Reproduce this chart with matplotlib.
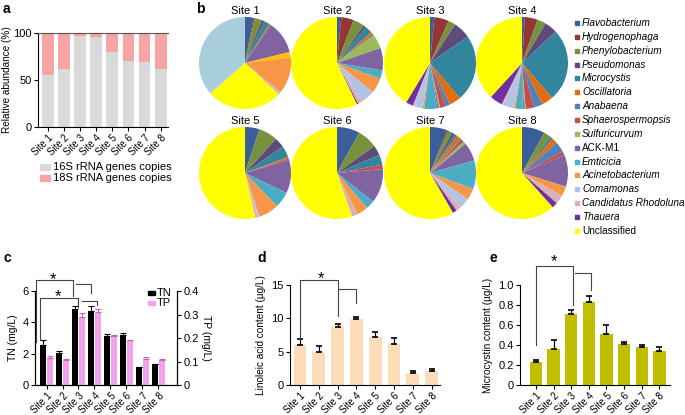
import numpy as np
import matplotlib
matplotlib.use('Agg')
import matplotlib.pyplot as plt
from matplotlib.patches import Rectangle

plt.rcParams['font.family'] = ['Liberation Sans', 'DejaVu Sans']
plt.rcParams['font.size'] = 7.5
plt.rcParams['axes.linewidth'] = 0.8
plt.rcParams['xtick.major.width'] = 0.8
plt.rcParams['ytick.major.width'] = 0.8
plt.rcParams['xtick.major.size'] = 3
plt.rcParams['ytick.major.size'] = 3

# ================= data =================
sites = ["Site 1", "Site 2", "Site 3", "Site 4", "Site 5", "Site 6", "Site 7", "Site 8"]

# a: relative abundance (%)
rrna_16s = [55, 62, 97, 96, 80, 70, 69, 62]
rrna_18s = [45, 38, 3, 4, 20, 30, 31, 38]

# b: community composition (%), clockwise from 12 o'clock
taxa = ["Flavobacterium", "Hydrogenophaga", "Phenylobacterium", "Pseudomonas",
        "Microcystis", "Oscillatoria", "Anabaena", "Sphaerospermopsis",
        "Sulfuricurvum", "ACK-M1", "_gold", "Emticicia", "Acinetobacterium",
        "Comamonas", "Candidatus Rhodoluna", "Thauera", "Unclassified", "_lightblue"]
taxa_colors = ["#3b5e9a", "#943634", "#77923c", "#604a7b", "#31859c", "#e46c0a",
               "#4f81bd", "#c0504d", "#9bbb59", "#8064a2", "#ffc000", "#4bacc6",
               "#f79646", "#b3c3e3", "#d8b0b8", "#7030a0", "#ffff00", "#a8cddb"]
italic_taxa = [True, True, True, True, True, True, True, True, True, False, False,
               True, True, True, True, True, False, False]
pie_site1 = [3, 0.5, 2.5, 1, 2, 0.5, 0, 0, 0, 12, 2, 0, 13, 0, 1, 0, 27, 37]
pie_site2 = [1.5, 4.5, 4, 1, 2.5, 1, 0.5, 0, 5, 8, 0, 3, 5.5, 5, 1.5, 0.5, 58, 0]
pie_site3 = [1.5, 5, 2.5, 6, 23, 4, 1.5, 2, 0.5, 0.5, 0, 4.5, 0.5, 3, 0.5, 2.5, 40.5, 0]
pie_site4 = [1, 4.5, 3, 4.5, 25.5, 4, 3, 3, 0.5, 0.5, 0, 2.5, 0.5, 4, 0.5, 4.5, 38, 0]
pie_site5 = [5, 0, 6.5, 3.5, 4, 0.5, 0, 0.5, 0, 11.5, 0, 5.5, 7, 0.5, 1, 0, 52.5, 0]
pie_site6 = [8, 0, 7, 3.5, 3.5, 0, 0, 1.5, 0, 12, 0, 3, 4, 0, 2, 0, 55, 0]
pie_site7 = [6, 0.5, 1.5, 1, 1, 1.5, 0.5, 1, 1, 6.5, 0, 10, 4, 3.5, 2, 1.5, 58, 0]
pie_site8 = [8, 0, 2.5, 0, 1, 2, 3.5, 1.5, 0, 11, 0, 0, 3.5, 0, 3, 2, 61, 0]
pies = [pie_site1, pie_site2, pie_site3, pie_site4,
        pie_site5, pie_site6, pie_site7, pie_site8]

# c: nutrients
tn = [2.55, 2.05, 4.85, 4.7, 3.15, 3.2, 1.12, 1.32]
tn_err = [0.3, 0.15, 0.2, 0.35, 0.1, 0.12, 0.05, 0.05]
tp = [0.115, 0.105, 0.29, 0.31, 0.21, 0.19, 0.11, 0.106]
tp_err = [0.01, 0.005, 0.015, 0.012, 0.003, 0.003, 0.008, 0.006]

# d: linoleic acid (ug/L)
linoleic = [6.0, 5.0, 8.65, 9.9, 7.15, 6.15, 1.8, 2.12]
linoleic_err = [0.85, 0.9, 0.45, 0.35, 0.85, 0.9, 0.3, 0.22]

# e: microcystin (ug/L)
microcystin = [0.233, 0.365, 0.713, 0.827, 0.515, 0.41, 0.383, 0.343]
microcystin_err = [0.015, 0.09, 0.035, 0.06, 0.09, 0.02, 0.02, 0.035]

W, H = 685, 415


def box(l, t, r, b):
    return [l / W, 1 - b / H, (r - l) / W, (b - t) / H]


def fx(px):
    return px / W


def fy(py):
    return 1 - py / H


def site_xticks(ax, x):
    ax.set_xticks(x)
    ax.set_xticklabels(sites, rotation=45, ha='right', rotation_mode='anchor', fontsize=7)
    ax.tick_params(axis='x', length=3, pad=1)


def bracket(ax, pts):
    xs, ys = zip(*pts)
    ax.plot(xs, ys, color='#444444', lw=0.8, clip_on=False)


fig = plt.figure(figsize=(6.85, 4.15), dpi=100)
x = np.arange(len(sites))

# ---------- a ----------
ax = fig.add_axes(box(38, 33, 168, 127))
ax.bar(x, rrna_16s, width=0.72, color="#d9d9d9")
ax.bar(x, rrna_18s, bottom=rrna_16s, width=0.72, color="#f6a4a4")
ax.set_xlim(-0.6, 7.45)
ax.set_ylim(0, 100)
ax.set_yticks([0, 50, 100])
ax.tick_params(axis='y', labelsize=8, pad=1.5)
ax.spines['right'].set_visible(False)
ax.spines['top'].set_color('#555555')
site_xticks(ax, x)
ax.set_ylabel("Relative abundance (%)", fontsize=7.2, labelpad=1)
fig.text(fx(3), fy(9), "a", fontsize=10, fontweight='bold', va='center')
for yy, lab, col in [(167, "16S rRNA genes copies", "#d9d9d9"),
                     (178, "18S rRNA genes copies", "#f6a4a4")]:
    fig.patches.append(Rectangle((fx(40), fy(yy + 3)), 10 / W, 6 / H,
                                 transform=fig.transFigure, color=col))
    fig.text(fx(53), fy(yy), lab, fontsize=8, va='center')

# ---------- b ----------
fig.text(fx(196), fy(9), "b", fontsize=10, fontweight='bold', va='center')
centers = [(245, 63), (337, 63), (430, 63), (522, 63),
           (245, 173), (337, 173), (430, 173), (522, 173)]
R = 46
for i, (cx, cy) in enumerate(centers):
    pax = fig.add_axes(box(cx - R, cy - R, cx + R, cy + R))
    vals = pies[i]
    keep = [k for k, v in enumerate(vals) if v > 0]
    pax.pie([vals[k] for k in keep], colors=[taxa_colors[k] for k in keep],
            startangle=90, counterclock=False, radius=1,
            wedgeprops=dict(linewidth=0))
    pax.set_xlim(-1, 1)
    pax.set_ylim(-1, 1)
    pax.set_aspect('auto')
    pax.axis('off')
    fig.text(fx(cx), fy(cy - R - 6), sites[i], fontsize=8, ha='center', va='center')

legend_idx = [k for k, t in enumerate(taxa) if not t.startswith("_")]
for j, k in enumerate(legend_idx):
    yy = 23 + 13.85 * j
    fig.patches.append(Rectangle((fx(575), fy(yy + 2)), 4 / W, 4 / H,
                                 transform=fig.transFigure, color=taxa_colors[k]))
    fig.text(fx(582), fy(yy), taxa[k], fontsize=7.2, va='center',
             style='italic' if italic_taxa[k] else 'normal')

# ---------- c ----------
ax = fig.add_axes(box(35, 291, 177, 385))
ax.bar(x - 0.21, tn, width=0.38, color="black")
ax.errorbar(x - 0.21, tn, yerr=[np.zeros(8), tn_err], fmt='none', ecolor='black',
            elinewidth=0.8, capsize=2, capthick=0.8)
ax.set_xlim(-0.72, 8.16)
ax.set_ylim(0, 6)
ax.set_yticks([0, 2, 4, 6])
ax.tick_params(axis='y', labelsize=8, pad=1.5)
ax.spines['top'].set_visible(False)
site_xticks(ax, x)
ax.set_ylabel("TN (mg/L)", fontsize=7.5, labelpad=3)
ax2 = ax.twinx()
ax2.bar(x + 0.21, tp, width=0.38, color="#f2a2e6")
ax2.errorbar(x + 0.21, tp, yerr=[np.zeros(8), tp_err], fmt='none', ecolor='#c860c0',
             elinewidth=0.8, capsize=2, capthick=0.8)
ax2.set_ylim(0, 0.4)
ax2.set_yticks([0, 0.1, 0.2, 0.3, 0.4])
ax2.set_yticklabels(["0", "0.1", "0.2", "0.3", "0.4"])
ax2.tick_params(axis='y', labelsize=8, pad=1.5)
ax2.spines['top'].set_visible(False)
ax2.set_ylabel("TP (mg/L)", fontsize=7.5, rotation=270, labelpad=9)
bracket(ax, [(-0.68, 2.75), (-0.68, 6.7), (1.64, 6.7), (1.64, 5.7)])
bracket(ax, [(1.84, 6.43), (2.76, 6.43), (2.76, 5.87)])
bracket(ax, [(-0.41, 2.9), (-0.41, 5.53), (1.99, 5.53), (1.99, 5.0)])
bracket(ax, [(2.2, 5.36), (3.14, 5.36), (3.14, 5.1)])
ax.text(0.43, 6.75, "*", fontsize=12, ha='center', va='center')
ax.text(0.74, 5.65, "*", fontsize=12, ha='center', va='center')
for yy, lab, col in [(293, "TN", "black"), (303, "TP", "#f2a2e6")]:
    fig.patches.append(Rectangle((fx(148), fy(yy + 2)), 7 / W, 4 / H,
                                 transform=fig.transFigure, color=col))
    fig.text(fx(157), fy(yy), lab, fontsize=8, va='center')
fig.text(fx(3), fy(258), "c", fontsize=10, fontweight='bold', va='center')

# ---------- d ----------
ax = fig.add_axes(box(290, 285, 440, 385))
ax.bar(x, linoleic, width=0.68, color="#fddcb8")
ax.errorbar(x, linoleic, yerr=[np.zeros(8), linoleic_err], fmt='none', ecolor='black',
            elinewidth=0.9, capsize=2.5, capthick=1.2)
ax.set_xlim(-0.53, 7.45)
ax.set_ylim(0, 15)
ax.set_yticks([0, 5, 10, 15])
ax.tick_params(axis='y', labelsize=8, pad=1.5)
ax.spines['top'].set_visible(False)
ax.spines['right'].set_visible(False)
site_xticks(ax, x)
ax.set_ylabel("Linoleic acid content (\u00b5g/L)", fontsize=7.2, labelpad=4)
bracket(ax, [(0, 6.95), (0, 15.7), (2, 15.7), (2, 10.3)])
bracket(ax, [(2.1, 14.45), (3, 14.45), (3, 12.3)])
ax.text(1.1, 16.0, "*", fontsize=12, ha='center', va='center')
fig.text(fx(257), fy(258), "d", fontsize=10, fontweight='bold', va='center')

# ---------- e ----------
ax = fig.add_axes(box(520, 285, 670, 385))
ax.bar(x, microcystin, width=0.7, color="#c0be00")
ax.errorbar(x, microcystin, yerr=[np.zeros(8), microcystin_err], fmt='none',
            ecolor='black', elinewidth=0.9, capsize=2.5, capthick=1.2)
ax.set_xlim(-0.9, 7.6)
ax.set_ylim(0, 1.0)
ax.set_yticks([0, 0.2, 0.4, 0.6, 0.8, 1.0])
ax.set_yticklabels(["0", "0.2", "0.4", "0.6", "0.8", "1.0"])
ax.tick_params(axis='y', labelsize=8, pad=1.5)
ax.spines['top'].set_visible(False)
ax.spines['right'].set_visible(False)
site_xticks(ax, x)
ax.set_ylabel("Microcystin content (\u00b5g/L)", fontsize=7.2, labelpad=4)
bracket(ax, [(0, 0.4), (0, 1.193), (2.09, 1.193), (2.09, 0.8)])
bracket(ax, [(2.23, 1.117), (3.1, 1.117), (3.1, 0.95)])
ax.text(1.03, 1.23, "*", fontsize=12, ha='center', va='center')
fig.text(fx(490), fy(258), "e", fontsize=10, fontweight='bold', va='center')

fig.savefig("out.png", dpi=100)
